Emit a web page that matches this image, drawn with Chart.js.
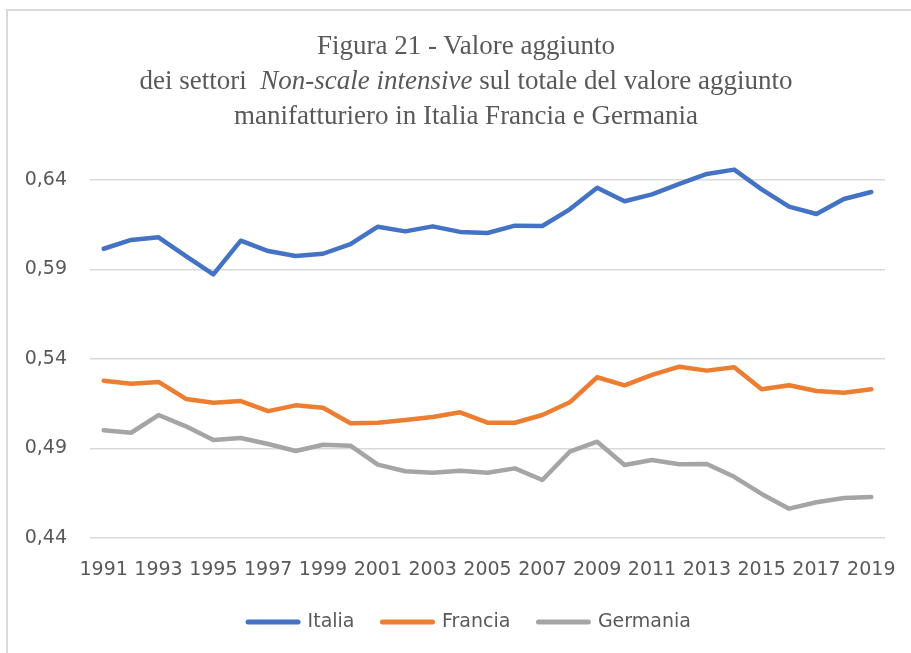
<!DOCTYPE html>
<html><head><meta charset="utf-8">
<script src="https://cdn.jsdelivr.net/npm/chart.js@4.4.1/dist/chart.umd.min.js"></script>
<style>
html,body{margin:0;padding:0;width:911px;height:653px;overflow:hidden;background:#fff;}
#frame{position:absolute;left:6px;top:9px;width:1000px;height:1000px;border-top:2px solid #d9d9d9;border-left:2px solid #d9d9d9;box-sizing:border-box;}
#title{position:absolute;left:0;width:932px;top:28px;text-align:center;font-family:"Liberation Serif",serif;font-size:27px;line-height:35px;color:#595959;}
#wrap{position:absolute;left:0;top:0;width:911px;height:653px;}
</style></head><body>
<div id="frame"></div>
<div id="wrap"><canvas id="c" width="911" height="653"></canvas></div>
<div id="title">Figura 21 - Valore aggiunto<br>dei settori&nbsp; <i>Non-scale intensive</i> sul totale del valore aggiunto<br>manifatturiero in Italia Francia e Germania</div>
<script>
const years = ['1991','1992','1993','1994','1995','1996','1997','1998','1999','2000','2001','2002','2003','2004','2005','2006','2007','2008','2009','2010','2011','2012','2013','2014','2015','2016','2017','2018','2019'];
const italia = [0.6016,0.6065,0.6080,0.5975,0.5873,0.6061,0.6003,0.5975,0.5988,0.6042,0.6139,0.6113,0.6141,0.6110,0.6104,0.6145,0.6143,0.6236,0.6357,0.6281,0.6320,0.6378,0.6434,0.6458,0.6348,0.6251,0.6210,0.6294,0.6333];
const francia = [0.5279,0.5262,0.5272,0.5177,0.5156,0.5165,0.5109,0.5141,0.5128,0.5041,0.5044,0.5059,0.5076,0.5102,0.5044,0.5044,0.5087,0.5158,0.5298,0.5253,0.5311,0.5357,0.5335,0.5354,0.5231,0.5253,0.5221,0.5212,0.5231];
const germania = [0.5002,0.4988,0.5087,0.5024,0.4947,0.4959,0.4925,0.4886,0.4921,0.4916,0.4810,0.4773,0.4765,0.4776,0.4765,0.4789,0.4724,0.4882,0.4938,0.4808,0.4836,0.4812,0.4813,0.4742,0.4646,0.4564,0.4600,0.4623,0.4629];
const yTicks = [0.44,0.49,0.54,0.59,0.64];
const seriesNames = ['Italia','Francia','Germania'];
const seriesColors = ['#4472C4','#ED7D31','#A5A5A5'];

const tickFont = {family:'"DejaVu Sans", sans-serif', size:19};
const xTickFont = {family:'"DejaVu Sans", sans-serif', size:19, lineHeight:'65px'};
const textColor = '#595959';

const legendShift = {
  id:'legendShift',
  afterLayout(chart){ if (chart.legend){ chart.legend.left += 17; chart.legend.right += 17; } }
};

new Chart(document.getElementById('c'), {
  type:'line',
  data:{
    labels: years,
    datasets:[italia,francia,germania].map((d,i)=>({
      label: seriesNames[i], data: d, borderColor: seriesColors[i], backgroundColor: seriesColors[i],
      borderWidth: 4.5, pointRadius: 0, tension: 0, borderCapStyle:'round', borderJoinStyle:'round', fill:false, clip:false
    }))
  },
  plugins:[legendShift],
  options:{
    responsive:false, animation:false, devicePixelRatio:1,
    layout:{padding:{top:180,left:20,right:26,bottom:11.5}},
    plugins:{
      title:{display:false},
      tooltip:{enabled:false},
      legend:{
        display:true, position:'bottom', align:'center',
        labels:{
          usePointStyle:true, pointStyleWidth:50, padding:28,
          font:tickFont, color:textColor,
          generateLabels:(chart)=>chart.data.datasets.map((ds,i)=>({
            text: ds.label, fillStyle: ds.borderColor, strokeStyle: ds.borderColor,
            lineWidth:5, lineCap:'round', pointStyle:'line', hidden:false, datasetIndex:i, fontColor:textColor
          }))
        }
      }
    },
    scales:{
      x:{
        offset:true,
        grid:{display:false, drawTicks:false},
        border:{display:false},
        ticks:{
          autoSkip:false, maxRotation:0, minRotation:0, padding:0, font:xTickFont, color:textColor,
          callback:function(v,i){ return i%2===0 ? this.getLabelForValue(v) : ''; }
        },
        afterFit:(s)=>{ s.height = 46.5; }
      },
      y:{
        min:0.44, max:0.64,
        afterBuildTicks:(s)=>{ s.ticks = yTicks.map(v=>({value:v})); },
        grid:{color:'#d9d9d9', lineWidth:1.5, drawTicks:false},
        border:{display:false},
        ticks:{padding:23, font:tickFont, color:textColor, callback:(v)=>Number(v).toFixed(2).replace('.',',')},
        afterFit:(s)=>{ s.width = 70; }
      }
    }
  }
});
</script>
</body></html>
